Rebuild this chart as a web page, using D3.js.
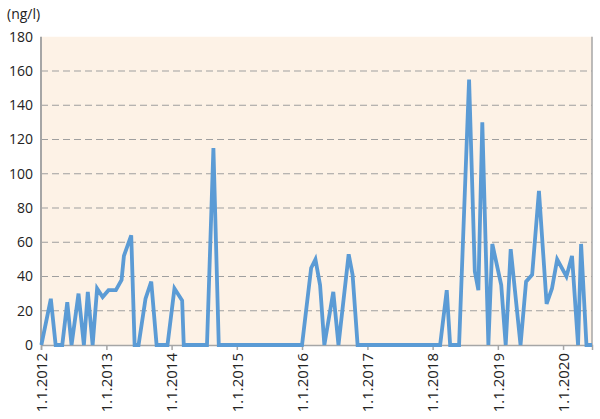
<!DOCTYPE html>
<html><head><meta charset="utf-8">
<script src="https://cdn.jsdelivr.net/npm/d3@7"></script>
<style>body{margin:0;background:#fff}svg{display:block;font-family:"Open Sans",sans-serif}</style>
</head><body><svg id="c" width="600" height="419"></svg>
<script>
const dates = ["2012-01-03","2012-02-25","2012-03-23","2012-04-29","2012-05-27","2012-06-20","2012-07-29","2012-08-28","2012-09-19","2012-10-16","2012-11-10","2012-12-11",
"2013-01-13","2013-02-23","2013-03-27","2013-04-09","2013-05-20","2013-06-08","2013-06-30","2013-08-08","2013-09-09","2013-10-09","2013-12-09",
"2014-01-17","2014-03-01","2014-03-10","2014-07-18","2014-08-23","2014-09-22",
"2016-01-01","2016-02-21","2016-03-16","2016-04-11","2016-05-05","2016-06-24","2016-07-23","2016-09-18","2016-10-10","2016-11-07",
"2018-02-12","2018-03-21","2018-04-09","2018-05-29","2018-07-24","2018-08-25","2018-09-14","2018-10-06","2018-11-09","2018-12-01",
"2019-01-20","2019-02-14","2019-03-14","2019-05-08","2019-06-08","2019-07-12","2019-08-19","2019-10-01","2019-10-31","2019-11-29",
"2020-01-20","2020-02-20","2020-03-25","2020-04-11","2020-05-11","2020-06-11"];
const values = [0,27,0,0,25,0,30,0,31,0,33,28,
32,32,38,52,64,0,0,27,37,0,0,
33,26,0,0,115,0,
0,45,50,35,0,31,0,53,41,0,
0,32,0,0,155,43,32,130,0,59,
35,0,56,0,37,41,90,24,33,50,
40,52,0,59,0,0];
const yTicks = [0,20,40,60,80,100,120,140,160,180];
const xTickYears = [2012,2013,2014,2015,2016,2017,2018,2019,2020];
const yUnit = "(ng/l)";

const svg = d3.select("#c");
const L=41, R=592, T=36.75, B=345;
const parse = d3.timeParse("%Y-%m-%d");
const data = dates.map((d,i)=>({d:parse(d), v:values[i]}));
const x = d3.scaleTime().domain([new Date(2012,0,1), new Date(2020,5,11)]).range([L,R]);
const y = d3.scaleLinear().domain([0,180]).range([B,T]);

svg.append("rect").attr("x",L).attr("y",T).attr("width",R-L).attr("height",B-T).attr("fill","#fdf2e6");
svg.append("g").selectAll("line").data(yTicks.filter(t=>t>0&&t<180)).join("line")
  .attr("x1",L).attr("x2",R).attr("y1",d=>y(d)).attr("y2",d=>y(d))
  .attr("stroke","#9f9f9f").attr("stroke-width",1).attr("stroke-dasharray","7,4");

svg.append("line").attr("x1",L).attr("x2",L).attr("y1",T).attr("y2",B).attr("stroke","#a6a6a6").attr("stroke-width",2);
svg.append("line").attr("x1",R).attr("x2",R).attr("y1",T).attr("y2",B).attr("stroke","#a6a6a6").attr("stroke-width",1.5);

const yAxis = d3.axisLeft(y).tickValues(yTicks).tickSize(0).tickPadding(8);
const gy = svg.append("g").attr("transform",`translate(${L},0)`).call(yAxis);
gy.select(".domain").remove();
gy.selectAll("text").attr("font-size",14).attr("fill","#222").attr("font-family","Open Sans");

const xTicks = xTickYears.map(yv=>new Date(yv,0,1));
const xAxis = d3.axisBottom(x).tickValues(xTicks).tickSize(5).tickFormat(d=>"1.1."+d.getFullYear());
const gx = svg.append("g").attr("transform",`translate(0,${B})`).call(xAxis);
gx.select(".domain").attr("stroke","#a6a6a6").attr("stroke-width",1.5);
gx.selectAll(".tick line").attr("stroke","#a6a6a6").attr("stroke-width",1.5);
gx.selectAll("text").attr("font-size",15).attr("fill","#222").attr("font-family","Open Sans")
  .attr("transform","rotate(-90)").attr("text-anchor","end").attr("dx","-8").attr("dy","0.35em").attr("x",0).attr("y",0);

svg.append("path").datum(data)
  .attr("d",d3.line().x(d=>x(d.d)).y(d=>y(d.v)))
  .attr("fill","none").attr("stroke","#5b9bd5").attr("stroke-width",3.8).attr("stroke-linejoin","miter");

svg.append("text").attr("x",7).attr("y",19).attr("font-size",14).attr("fill","#222").text(yUnit);
</script></body></html>
